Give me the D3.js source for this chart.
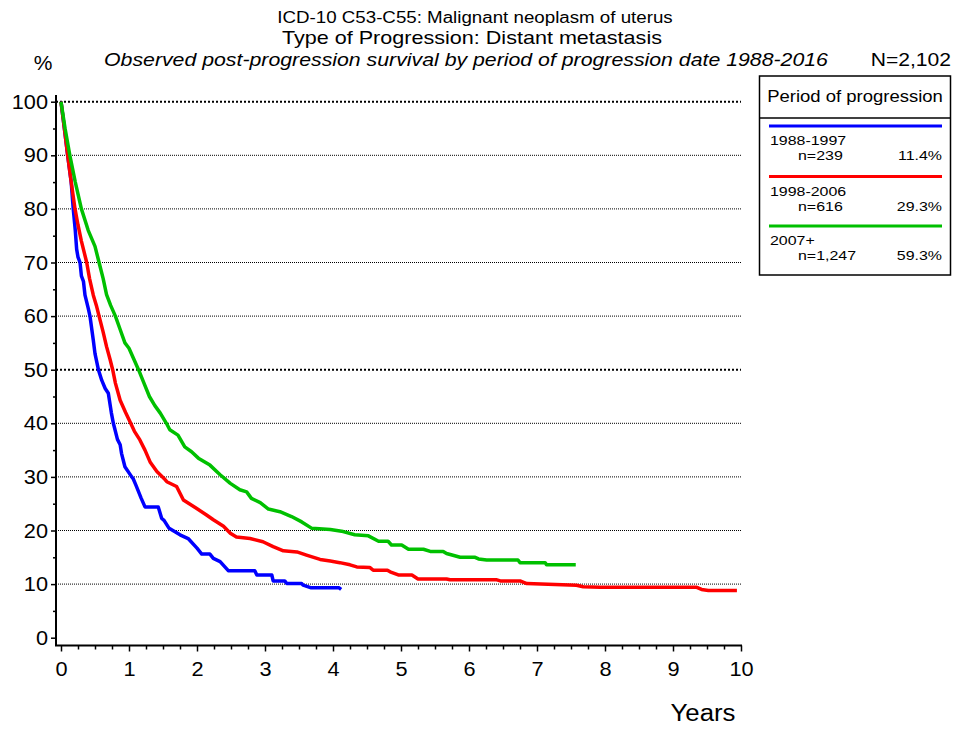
<!DOCTYPE html>
<html><head><meta charset="utf-8">
<script src="https://cdn.jsdelivr.net/npm/d3@7"></script>
<style>body{margin:0;background:#fff}svg{display:block;font-family:"Liberation Sans",Arial,sans-serif}</style>
</head><body>
<script>
const titleLines = ["ICD-10 C53-C55: Malignant neoplasm of uterus","Type of Progression: Distant metastasis","Observed post-progression survival by period of progression date 1988-2016"];
const totalN = "N=2,102";
const xTicks = [0,1,2,3,4,5,6,7,8,9,10];
const yTicks = [0,10,20,30,40,50,60,70,80,90,100];
const seriesNames = ["1988-1997","1998-2006","2007+"];
const seriesN = ["n=239","n=616","n=1,247"];
const seriesPct = ["11.4%","29.3%","59.3%"];
const seriesColors = ["#0000ff","#ff0000","#00c000"];

const blue = [[0,100],[0.05,95],[0.098,90],[0.15,85],[0.18,80],[0.21,76],[0.23,72.5],[0.25,71],[0.28,70],[0.30,67.5],[0.33,66.5],[0.353,63.9],[0.40,61.5],[0.426,60],[0.475,55.5],[0.50,53],[0.55,50],[0.60,48],[0.65,46.5],[0.696,45.6],[0.74,42],[0.77,40],[0.83,37],[0.87,36],[0.89,34.4],[0.94,31.9],[1.04,30],[1.06,29.7],[1.10,28.5],[1.18,26],[1.235,24.4],[1.43,24.4],[1.48,22.3],[1.52,21.8],[1.59,20.4],[1.75,19.2],[1.87,18.5],[2.0,16.7],[2.07,15.6],[2.19,15.6],[2.24,14.8],[2.34,14.2],[2.46,12.5],[2.85,12.5],[2.88,11.7],[3.10,11.7],[3.12,10.6],[3.29,10.6],[3.32,10.1],[3.54,10.1],[3.56,9.8],[3.68,9.3],[4.09,9.3],[4.12,9.0]];
const red = [[0,100],[0.05,95],[0.098,90],[0.15,85],[0.206,80],[0.25,77],[0.30,74],[0.378,70],[0.42,67],[0.475,63.9],[0.52,62],[0.56,60],[0.62,57],[0.67,54.3],[0.72,52],[0.76,50],[0.80,47.5],[0.87,44.3],[0.95,42],[1.025,40],[1.08,38.5],[1.16,36.9],[1.235,35],[1.31,32.8],[1.41,31],[1.53,29.5],[1.556,29.1],[1.70,28.2],[1.80,25.7],[1.996,24.1],[2.14,22.9],[2.24,22.0],[2.39,20.8],[2.49,19.5],[2.58,18.8],[2.78,18.5],[2.97,17.9],[3.12,17.0],[3.27,16.2],[3.47,16.0],[3.61,15.4],[3.81,14.6],[3.96,14.3],[4.10,14.0],[4.25,13.6],[4.35,13.2],[4.54,13.1],[4.59,12.6],[4.80,12.6],[4.84,12.3],[4.96,11.7],[5.16,11.7],[5.25,10.95],[5.67,10.95],[5.72,10.8],[6.41,10.8],[6.46,10.6],[6.75,10.6],[6.85,10.1],[7.58,9.8],[7.68,9.5],[7.93,9.4],[9.35,9.4],[9.42,9.0],[9.52,8.8],[9.94,8.8]];
const green = [[0,100],[0.06,95],[0.13,90],[0.21,85],[0.30,80],[0.40,76],[0.50,73],[0.56,70],[0.62,67],[0.67,64],[0.73,62],[0.80,60],[0.87,57.5],[0.94,55],[1.0,54],[1.07,52],[1.14,50],[1.22,47.5],[1.30,45],[1.38,43.3],[1.46,41.9],[1.55,40],[1.60,38.8],[1.72,37.8],[1.82,35.6],[1.92,34.7],[2.02,33.5],[2.19,32.2],[2.34,30.4],[2.49,28.8],[2.63,27.6],[2.73,27.2],[2.80,26.0],[2.93,25.2],[3.05,24.0],[3.22,23.5],[3.39,22.6],[3.54,21.6],[3.69,20.4],[3.96,20.2],[4.15,19.8],[4.32,19.2],[4.52,19.0],[4.67,18.0],[4.81,18.0],[4.86,17.3],[5.01,17.3],[5.11,16.5],[5.33,16.5],[5.43,16.1],[5.62,16.1],[5.67,15.7],[5.87,15.0],[6.09,15.0],[6.14,14.7],[6.26,14.5],[6.72,14.5],[6.75,14.0],[7.12,14.0],[7.14,13.6],[7.57,13.6]];
const seriesData = [blue, red, green];

const W = 953, H = 729;
const svg = d3.select("body").append("svg").attr("width", W).attr("height", H);
const x = d3.scaleLinear().domain([0,10]).range([61,741]);
const y = d3.scaleLinear().domain([0,100]).range([637.7,101.7]);

// horizontally widen text (reference font is wider than the local Arial metric font)
function stretch(sel, f){
  sel.each(function(){
    const w = this.getComputedTextLength();
    d3.select(this).attr("textLength", w*f).attr("lengthAdjust","spacingAndGlyphs");
  });
  return sel;
}

// titles
stretch(svg.append("text").attr("x",475).attr("y",23).attr("text-anchor","middle").attr("font-size",16).text(titleLines[0]),1.17);
stretch(svg.append("text").attr("x",472).attr("y",44).attr("text-anchor","middle").attr("font-size",19).text(titleLines[1]),1.135);
stretch(svg.append("text").attr("x",466).attr("y",66).attr("text-anchor","middle").attr("font-size",19).attr("font-style","italic").text(titleLines[2]),1.12);
stretch(svg.append("text").attr("x",951).attr("y",66).attr("text-anchor","end").attr("font-size",19).text(totalN),1.11);
svg.append("text").attr("x",43).attr("y",70).attr("text-anchor","middle").attr("font-size",21).text("%");

// gridlines
svg.append("g").selectAll("line").data(yTicks.filter(d=>d>0)).join("line")
  .attr("x1",56).attr("x2",741).attr("y1",d=>y(d)).attr("y2",d=>y(d))
  .attr("stroke","#000").attr("stroke-width",d=>(d===50||d===100)?2:1)
  .attr("stroke-dasharray",d=>(d===50||d===100)?"2,2":"1,1");

// y axis
const yAxis = d3.axisLeft(y).tickValues(yTicks).tickSize(5).tickPadding(3).tickFormat(d3.format("d"));
const gy = svg.append("g").attr("transform","translate(56,0)").call(yAxis);
gy.select(".domain").remove();
gy.selectAll("text").attr("font-size",20.5).attr("font-family","Liberation Sans, Arial, sans-serif").attr("fill","#000");
stretch(gy.selectAll("text"),1.06);
gy.selectAll("line").attr("stroke","#000").attr("stroke-width",1.5);
const yMinor = d3.axisLeft(y).tickValues(d3.range(5,100,10)).tickSize(3).tickFormat("");
const gym = svg.append("g").attr("transform","translate(56,0)").call(yMinor);
gym.select(".domain").remove();
gym.selectAll("line").attr("stroke","#000").attr("stroke-width",1.5);
svg.append("line").attr("x1",56).attr("x2",56).attr("y1",95).attr("y2",646).attr("stroke","#000").attr("stroke-width",2);

// x axis
const xAxis = d3.axisBottom(x).tickValues(xTicks).tickSize(6).tickPadding(10).tickFormat(d3.format("d"));
const gx = svg.append("g").attr("transform","translate(0,645.5)").call(xAxis);
gx.select(".domain").remove();
gx.selectAll("text").attr("font-size",20.5).attr("font-family","Liberation Sans, Arial, sans-serif").attr("fill","#000");
stretch(gx.selectAll("text"),1.06);
gx.selectAll("line").attr("stroke","#000").attr("stroke-width",1.5);
const xMinor = d3.axisBottom(x).tickValues(d3.range(0,10.01,0.25).filter(v=>v%1!==0)).tickSize(4).tickFormat("");
const gxm = svg.append("g").attr("transform","translate(0,645.5)").call(xMinor);
gxm.select(".domain").remove();
gxm.selectAll("line").attr("stroke","#000").attr("stroke-width",1.5);
svg.append("line").attr("x1",55).attr("x2",742).attr("y1",645.5).attr("y2",645.5).attr("stroke","#000").attr("stroke-width",2);
stretch(svg.append("text").attr("x",703).attr("y",721).attr("text-anchor","middle").attr("font-size",23).text("Years"),1.12);

// curves
const line = d3.line().x(d=>x(d[0])).y(d=>y(d[1])).curve(d3.curveLinear);
svg.append("g").selectAll("path").data(seriesData).join("path")
  .attr("d",line).attr("fill","none").attr("stroke",(d,i)=>seriesColors[i])
  .attr("stroke-width",3.5).attr("stroke-linejoin","round");

// legend
const lg = svg.append("g");
lg.append("rect").attr("x",759.5).attr("y",76).attr("width",191).attr("height",199).attr("fill","#fff").attr("stroke","#000").attr("stroke-width",1.5);
stretch(lg.append("text").attr("x",855).attr("y",102).attr("text-anchor","middle").attr("font-size",16.5).text("Period of progression"),1.12);
lg.append("line").attr("x1",759.5).attr("x2",950.5).attr("y1",118).attr("y2",118).attr("stroke","#000").attr("stroke-width",1.5);
const rowY = [126,176.5,226];
seriesNames.forEach((nm,i)=>{
  const yy = rowY[i];
  lg.append("line").attr("x1",769).attr("x2",942).attr("y1",yy).attr("y2",yy).attr("stroke",seriesColors[i]).attr("stroke-width",3);
  stretch(lg.append("text").attr("x",770).attr("y",yy+19).attr("font-size",13.5).text(nm),1.18);
  stretch(lg.append("text").attr("x",798).attr("y",yy+34).attr("font-size",13.5).text(seriesN[i]),1.18);
  stretch(lg.append("text").attr("x",942).attr("y",yy+34).attr("text-anchor","end").attr("font-size",13.5).text(seriesPct[i]),1.18);
});
</script>
</body></html>
